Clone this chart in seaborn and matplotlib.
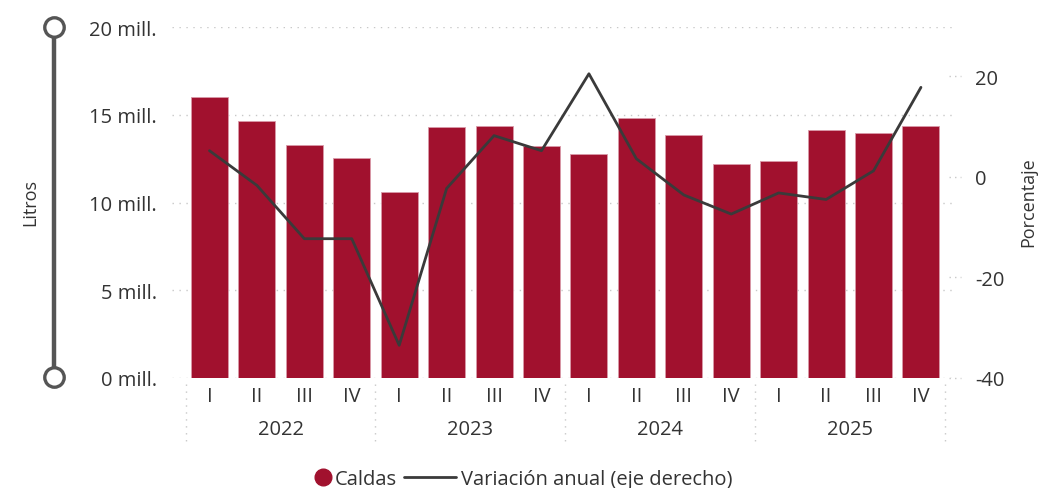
import numpy as np
import pandas as pd
import matplotlib
matplotlib.use("Agg")
import matplotlib.pyplot as plt
from matplotlib.lines import Line2D
import matplotlib.transforms as mtransforms
import seaborn as sns

# ---------------- data ----------------
years = ["2022", "2023", "2024", "2025"]
quarters = ["I", "II", "III", "IV"]
litros_mill = [16.0, 14.66, 13.28, 12.54,
               10.6, 14.3, 14.34, 13.2,
               12.78, 14.81, 13.83, 12.19,
               12.36, 14.15, 13.98, 14.34]
variacion = [5.2, -1.7, -12.3, -12.3,
             -33.5, -2.3, 8.2, 5.2,
             20.5, 3.6, -3.6, -7.4,
             -3.2, -4.5, 1.2, 17.8]
left_ticks = [0, 5, 10, 15, 20]
left_tick_labels = ["0 mill.", "5 mill.", "10 mill.", "15 mill.", "20 mill."]
right_ticks = [-40, -20, 0, 20]

periodo = [f"{y}-{q}" for y in years for q in quarters]
df = pd.DataFrame({
    "periodo": periodo,
    "pos": np.arange(len(periodo)),
    "litros": litros_mill,
    "variacion": variacion,
})

# ---------------- style ----------------
sns.set_theme(style="white")
plt.rcParams["font.family"] = ["Open Sans", "DejaVu Sans"]
txt = "#333333"
bar_color = "#A1112E"
line_color = "#3a3a3a"
grid_color = "#c8c8c8"
FS = 14.5

W, H = 1050, 489
fig = plt.figure(figsize=(W / 100, H / 100), dpi=100)

def fx(px):
    return px / W

def fy(py):
    return 1 - py / H

ax_l, ax_r, ax_t, ax_b = 172, 957, 28, 379
ax = fig.add_axes([fx(ax_l), fy(ax_b), (ax_r - ax_l) / W, (ax_b - ax_t) / H])

sns.barplot(data=df, x="periodo", y="litros", ax=ax, color=bar_color,
            saturation=1, width=0.78, edgecolor="#d99aa8", linewidth=0.6,
            zorder=2)

ax.set_ylim(0, 20)
ax.set_xlim(-0.79, 15.76)
ax.set_yticks(left_ticks)
ax.set_yticklabels(left_tick_labels)
ax.set_xticks(range(len(periodo)))
ax.set_xticklabels(quarters * len(years))
ax.tick_params(axis="y", length=0, pad=11, labelsize=FS, labelcolor=txt)
ax.tick_params(axis="x", length=0, pad=6, labelsize=FS, labelcolor=txt)
ax.set_xlabel("")
ax.set_ylabel("")
for s in ax.spines.values():
    s.set_visible(False)
for t in left_ticks:
    ax.axhline(t, color=grid_color, linestyle=(0, (1, 4)), linewidth=1, zorder=0)

# year labels and separators
trans = mtransforms.blended_transform_factory(ax.transData, ax.transAxes)
for i, y in enumerate(years):
    ax.text(i * 4 + 1.5, -0.145, y, transform=trans, ha="center", va="center",
            fontsize=FS, color=txt)
for b in np.arange(-0.5, len(periodo), 4):
    ax.add_line(Line2D([b, b], [-0.017, -0.195], transform=trans, color=grid_color,
                       linestyle=(0, (1, 4)), linewidth=1, clip_on=False))

# right axis line
ax2 = ax.twinx()
sns.lineplot(data=df, x="pos", y="variacion", ax=ax2, color=line_color,
             linewidth=2.0, zorder=3)
ax2.set_ylim(-40, 29.8)
ax2.set_yticks(right_ticks)
ax2.set_yticklabels([str(t) for t in right_ticks])
ax2.tick_params(axis="y", length=0, pad=13, labelsize=FS, labelcolor=txt)
ax2.set_ylabel("")
ax2.set_xlabel("")
for s in ax2.spines.values():
    s.set_visible(False)
for t in right_ticks:
    ax2.add_line(Line2D([0.99, 1.005], [t, t],
                        transform=mtransforms.blended_transform_factory(ax2.transAxes, ax2.transData),
                        color=grid_color, linestyle=(0, (1, 3)), linewidth=1, clip_on=False))

# axis titles
fig.text(fx(30), fy(203), "Litros", rotation=90, ha="center", va="center",
         fontsize=13, color=txt)
fig.text(fx(1028), fy(202), "Porcentaje", rotation=90, ha="center", va="center",
         fontsize=13, color=txt)

# decorative slider on the left
fig.add_artist(Line2D([fx(54), fx(54)], [fy(28), fy(378)], color="#555555",
                      linewidth=3.2, transform=fig.transFigure, zorder=1))
fig.add_artist(Line2D([fx(54), fx(54)], [fy(28), fy(378)], linestyle="none",
                      marker="o", markersize=14, markerfacecolor="white",
                      markeredgecolor="#555555", markeredgewidth=2.4,
                      transform=fig.transFigure, zorder=2))

# legend (two pieces so each handle has its own length)
h_bar = Line2D([], [], linestyle="none", marker="o", markersize=12,
               markerfacecolor=bar_color, markeredgecolor=bar_color)
h_line = Line2D([], [], color=line_color, linewidth=2.0)
leg1 = fig.legend([h_bar], ["Caldas"], loc="center right",
                  bbox_to_anchor=(fx(397), fy(480)), frameon=False, fontsize=FS,
                  handlelength=0.7, handletextpad=0.25, borderpad=0,
                  borderaxespad=0, labelcolor=txt)
leg2 = fig.legend([h_line], ["Variación anual (eje derecho)"], loc="center left",
                  bbox_to_anchor=(fx(404), fy(480)), frameon=False, fontsize=FS,
                  handlelength=2.6, handletextpad=0.25, borderpad=0,
                  borderaxespad=0, labelcolor=txt)

fig.savefig("out.png", dpi=100)
